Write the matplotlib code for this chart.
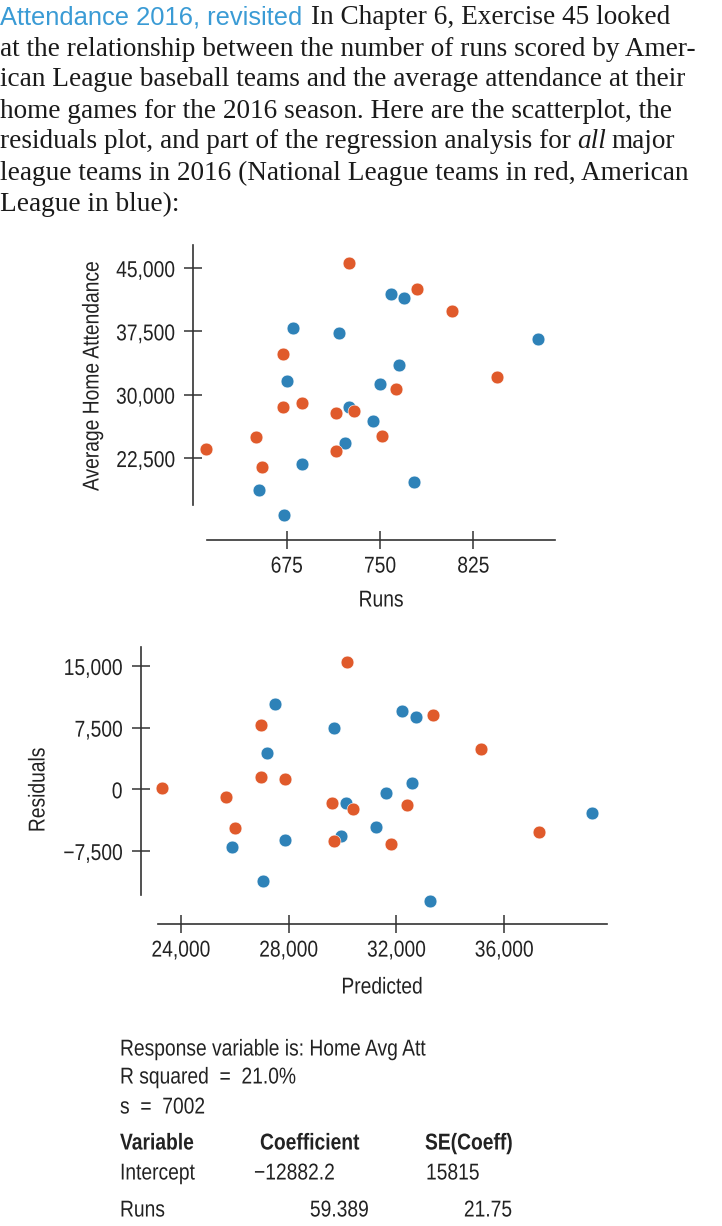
import numpy as np
import matplotlib.pyplot as plt
from matplotlib.ticker import FuncFormatter
from matplotlib.patheffects import AbstractPathEffect
from matplotlib.transforms import Affine2D

# Datos: equipos de la Liga Nacional (rojo) y Liga Americana (azul), 2016
runs_nl = [725, 780, 808, 672, 844, 763, 672, 687, 715, 729, 650, 752, 610, 715, 655]
att_nl = [45630, 42480, 39950, 34830, 32070, 30650, 28590, 28990, 27810, 28120,
          24970, 25160, 23550, 23350, 21420]
runs_al = [759, 769, 680, 717, 877, 765, 675, 750, 725, 744, 722, 687, 777, 653, 673]
att_al = [41920, 41490, 37940, 37270, 36570, 33530, 31630, 31240, 28590, 26900,
          24260, 21780, 19650, 18740, 15780]

# Residuales contra valores predichos
pred_nl = [30181, 33349, 26979, 35130, 26979, 27858, 23317, 25670, 29602, 30392,
           32407, 26026, 37293, 29676, 31802]
resid_nl = [15515, 9035, 7782, 4864, 1496, 1253, 195, -900, -1630, -2360,
            -1909, -4670, -5229, -6287, -6615]
pred_al = [27487, 32210, 32719, 29687, 27191, 32581, 31617, 30133, 39259, 31257,
           29947, 27858, 25892, 27042, 33238]
resid_al = [10336, 9558, 8828, 7490, 4378, 803, -486, -1630, -2845, -4548,
            -5642, -6129, -7053, -11187, -13619]

runs_ticks = [675, 750, 825]
att_ticks = [22500, 30000, 37500, 45000]
pred_ticks = [24000, 28000, 32000, 36000]
resid_ticks = [-7500, 0, 7500, 15000]

RED = '#e05a2b'
BLUE = '#2e82b8'
INK = '#333333'
SANS = ['Liberation Sans', 'DejaVu Sans']
SERIF = ['Liberation Serif', 'DejaVu Serif']
FS = 16.5
FS_TXT = 19.6
SX = 0.84


class Estrecho(AbstractPathEffect):
    """Comprime el texto en horizontal (letra condensada)."""

    def __init__(self, sx=SX, ancla='left'):
        super().__init__()
        self.sx = sx
        self.ancla = ancla

    def draw_path(self, renderer, gc, tpath, affine, rgbFace=None):
        ext = tpath.get_extents()
        x0 = {'left': 0.0, 'center': (ext.x0 + ext.x1) / 2, 'right': ext.x1}[self.ancla]
        t = Affine2D().translate(-x0, 0).scale(self.sx, 1).translate(x0, 0)
        renderer.draw_path(gc, tpath, t + affine, rgbFace)


W, H = 722, 1226
fig = plt.figure(figsize=(W / 100, H / 100), dpi=100)


def fx(x):
    return x / W


def fy(y):
    return 1 - y / H


def miles(v, pos):
    return '{:,.0f}'.format(v).replace('-', '\u2212')


def estilo(ax, xb, yb, xt, yt):
    for s in ['top', 'right']:
        ax.spines[s].set_visible(False)
    for s in ['left', 'bottom']:
        ax.spines[s].set_color(INK)
        ax.spines[s].set_linewidth(1.2)
    ax.spines['bottom'].set_bounds(*xb)
    ax.spines['left'].set_bounds(*yb)
    ax.set_xticks(xt)
    ax.set_yticks(yt)
    ax.xaxis.set_major_formatter(FuncFormatter(miles))
    ax.yaxis.set_major_formatter(FuncFormatter(miles))
    ax.tick_params(direction='inout', length=13, width=1.1, color=INK,
                   labelsize=FS, labelcolor='#222222')
    ax.tick_params(axis='x', pad=4)
    ax.tick_params(axis='y', pad=6.5)
    for lab in ax.get_xticklabels():
        lab.set_family(SANS)
        lab.set_path_effects([Estrecho(ancla='center')])
    for lab in ax.get_yticklabels():
        lab.set_family(SANS)
        lab.set_path_effects([Estrecho(ancla='right')])
    ax.patch.set_visible(False)


def rotulo(x, y, s, ha='left', **kw):
    kw.setdefault('fontsize', FS)
    kw.setdefault('color', '#222222')
    return fig.text(fx(x), fy(y), s, ha=ha, va='center', family=SANS,
                    path_effects=[Estrecho(ancla=ha)], **kw)


# Diagrama de dispersion
ax1 = fig.add_axes([fx(193), fy(540), (560 - 193) / W, (540 - 245) / H])
ax1.scatter(runs_al, att_al, s=85, color=BLUE, edgecolors='white', linewidths=0.4, clip_on=False)
ax1.scatter(runs_nl, att_nl, s=85, color=RED, edgecolors='white', linewidths=0.4, clip_on=False)
ax1.set_xlim(599.7, 894.7)
ax1.set_ylim(12795, 47723)
estilo(ax1, (610.9, 890.3), (16939, 47723), runs_ticks, att_ticks)
rotulo(381, 600, 'Runs', ha='center')
rotulo(92, 376, 'Average Home Attendance', ha='center', rotation=90)

# Grafico de residuales
ax2 = fig.add_axes([fx(140.7), fy(924), (610 - 140.7) / W, (924 - 647) / H])
ax2.scatter(pred_al, resid_al, s=85, color=BLUE, edgecolors='white', linewidths=0.4, clip_on=False)
ax2.scatter(pred_nl, resid_nl, s=85, color=RED, edgecolors='white', linewidths=0.4, clip_on=False)
ax2.set_xlim(22516, 39927)
ax2.set_ylim(-16380, 17304)
estilo(ax2, (23158, 39816), (-12841, 17304), pred_ticks, resid_ticks)
rotulo(382, 987, 'Predicted', ha='center')
rotulo(38, 790, 'Residuals', ha='center', rotation=90)

# Texto del enunciado
fig.text(fx(0), fy(17), 'Attendance 2016, revisited', ha='left', va='center',
         fontsize=18.4, family=SANS, color='#3a9bd5')
fig.text(fx(311), fy(17), 'In Chapter 6, Exercise 45 looked', ha='left', va='center',
         fontsize=FS_TXT, family=SERIF, color='#1a1a1a')
lineas = ['at the relationship between the number of runs scored by Amer-',
          'ican League baseball teams and the average attendance at their',
          'home games for the 2016 season. Here are the scatterplot, the',
          None,
          'league teams in 2016 (National League teams in red, American',
          'League in blue):']
fig.canvas.draw()
rend = fig.canvas.get_renderer()
for i, txt in enumerate(lineas):
    y = 49 + 31 * i
    if txt is not None:
        fig.text(fx(0), fy(y), txt, ha='left', va='center', fontsize=FS_TXT, family=SERIF, color='#1a1a1a')
    else:
        t = fig.text(fx(0), fy(y), 'residuals plot, and part of the regression analysis for',
                     ha='left', va='center', fontsize=FS_TXT, family=SERIF, color='#1a1a1a')
        x = t.get_window_extent(rend).x1 + 6
        t = fig.text(x / W, fy(y), 'all', ha='left', va='center', fontsize=FS_TXT, family=SERIF,
                     style='italic', color='#1a1a1a')
        x = t.get_window_extent(rend).x1 + 6
        fig.text(x / W, fy(y), 'major', ha='left', va='center', fontsize=FS_TXT, family=SERIF,
                 color='#1a1a1a')

# Salida de la regresion
rotulo(120, 1049, 'Response variable is: Home Avg Att')
rotulo(120, 1077, 'R squared  =  21.0%')
rotulo(120, 1107, 's  =  7002')
rotulo(120, 1143, 'Variable', fontweight='bold')
rotulo(260, 1143, 'Coefficient', fontweight='bold')
rotulo(425, 1143, 'SE(Coeff)', fontweight='bold')
rotulo(120, 1173, 'Intercept')
rotulo(254, 1173, '\u221212882.2')
rotulo(426, 1173, '15815')
rotulo(120, 1210, 'Runs')
rotulo(369, 1210, '59.389', ha='right')
rotulo(512, 1210, '21.75', ha='right')

fig.savefig('out.png', dpi=100)
